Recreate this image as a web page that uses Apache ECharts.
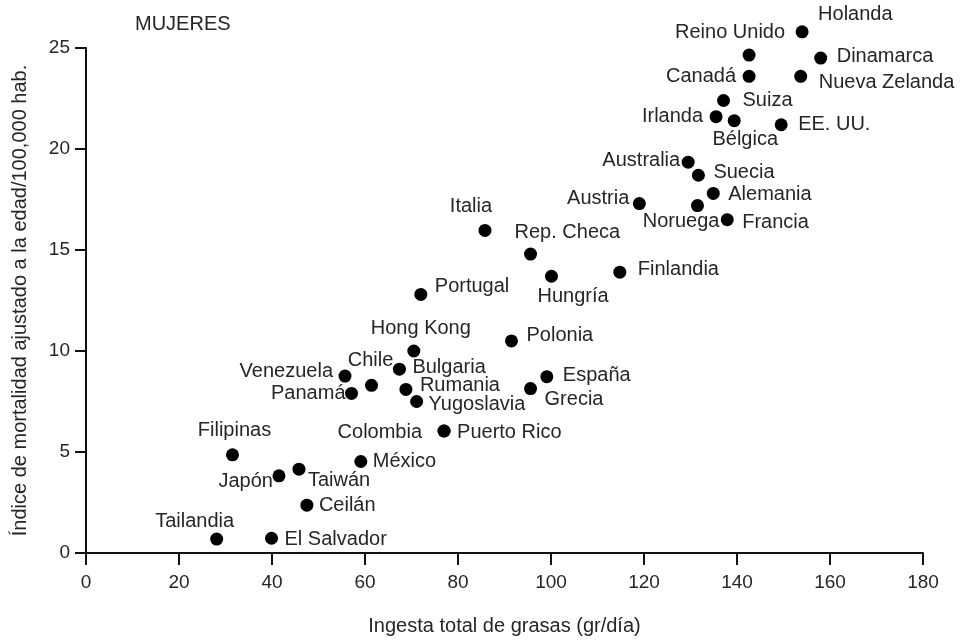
<!DOCTYPE html>
<html>
<head>
<meta charset="utf-8">
<script src="https://cdn.jsdelivr.net/npm/echarts@6/dist/echarts.min.js"></script>
<style>
html,body{margin:0;padding:0;background:#fff;}
#chart{width:980px;height:641px;}
</style>
</head>
<body>
<div id="chart"></div>
<script>
// ---- data ----
const countries = ['Holanda','Reino Unido','Dinamarca','Canadá','Nueva Zelanda','Suiza','Irlanda','Bélgica','EE. UU.','Australia','Suecia','Alemania','Austria','Noruega','Francia','Finlandia','Italia','Rep. Checa','Hungría','Portugal','Polonia','Hong Kong','Chile','Bulgaria','Venezuela','Panamá','Rumania','Yugoslavia','Colombia','Puerto Rico','México','España','Grecia','Filipinas','Japón','Taiwán','Ceilán','Tailandia','El Salvador'];
const fatIntake = [154.0,142.6,158.0,142.6,153.7,137.1,135.5,139.4,149.5,129.5,131.7,134.9,119.0,131.5,137.9,114.8,85.8,95.6,100.1,72.0,91.5,70.5,61.4,67.4,55.7,57.1,68.8,71.1,77.0,77.0,59.1,99.1,95.6,31.5,41.5,45.8,47.5,28.1,39.9];
const mortality = [25.8,24.65,24.5,23.6,23.6,22.4,21.6,21.4,21.2,19.35,18.7,17.8,17.3,17.2,16.5,13.9,15.97,14.8,13.7,12.8,10.5,10.0,8.3,9.1,8.76,7.9,8.1,7.5,6.04,6.04,4.53,8.73,8.14,4.86,3.82,4.15,2.37,0.69,0.73];
const xTicks = [0,20,40,60,80,100,120,140,160,180];
const yTicks = [0,5,10,15,20,25];

// ---- label placement (style only): [align, dx, dy] relative to dot centre ----
const labelPlace = {
  'Holanda':['left',16,-17],'Reino Unido':['right',36,-23],'Dinamarca':['left',16,-2],
  'Canadá':['right',-13,0],'Nueva Zelanda':['left',18,6],'Suiza':['left',19,0],
  'Irlanda':['right',-13,0],'Bélgica':['center',11,19],'EE. UU.':['left',17,0],
  'Australia':['right',-8,-2],'Suecia':['left',15,-3],'Alemania':['left',15,1],
  'Austria':['right',-10,-5],'Noruega':['right',22,16],'Francia':['left',15,3],
  'Finlandia':['left',18,-3],'Italia':['center',-14,-24],'Rep. Checa':['left',-16,-22],
  'Hungría':['left',-14,20],'Portugal':['left',14,-8],'Polonia':['left',15,-5],
  'Hong Kong':['center',7,-23],'Chile':['center',-1,-25],'Bulgaria':['left',13,-2],
  'Venezuela':['right',-12,-5],'Panamá':['right',-6,0],'Rumania':['left',14,-4],
  'Yugoslavia':['left',12,3],'Colombia':['right',-22,1],'Puerto Rico':['left',13,1],
  'México':['left',12,0],'España':['left',16,-1],'Grecia':['left',14,11],
  'Filipinas':['center',2,-24],'Japón':['right',-6,6],'Taiwán':['left',9,11],
  'Ceilán':['left',12,0],'Tailandia':['center',-22,-18],'El Salvador':['left',13,1]
};

const SYM = 13;
const FONT = 'Liberation Sans, Arial, sans-serif';
const TXT = '#262626';
const seriesData = countries.map((n, i) => {
  const p = labelPlace[n];
  return {
    name: n,
    value: [fatIntake[i], mortality[i]],
    label: {
      show: true,
      formatter: n,
      position: [SYM/2 + p[1], SYM/2 + p[2]],
      align: p[0],
      verticalAlign: 'middle',
      color: TXT,
      fontSize: 20,
      fontFamily: FONT
    }
  };
});

const chart = echarts.init(document.getElementById('chart'), null, {renderer:'canvas'});
chart.setOption({
  animation: false,
  backgroundColor: '#fff',
  title: {
    text: 'MUJERES', left: 135, top: 14, padding: 0,
    textStyle: {fontSize: 20, fontWeight: 'normal', color: TXT, fontFamily: FONT}
  },
  grid: {left: 86, right: 57, top: 48, bottom: 87},
  xAxis: {
    type: 'value', min: xTicks[0], max: xTicks[xTicks.length-1], interval: 20,
    name: 'Ingesta total de grasas (gr/día)', nameLocation: 'middle', nameGap: 63,
    nameTextStyle: {fontSize: 20, color: TXT, fontFamily: FONT},
    axisLine: {show: true, lineStyle: {color: '#111', width: 2}},
    axisTick: {show: true, length: 12, lineStyle: {color: '#111', width: 2}},
    axisLabel: {fontSize: 19, color: TXT, margin: 20, fontFamily: FONT},
    splitLine: {show: false}
  },
  yAxis: {
    type: 'value', min: yTicks[0], max: yTicks[yTicks.length-1], interval: 5,
    name: 'Índice de mortalidad ajustado a la edad/100,000 hab.', nameLocation: 'middle', nameGap: 56,
    nameRotate: 90,
    nameTextStyle: {fontSize: 20, color: TXT, fontFamily: FONT},
    axisLine: {show: true, lineStyle: {color: '#111', width: 2}},
    axisTick: {show: true, length: 11, lineStyle: {color: '#111', width: 2}},
    axisLabel: {fontSize: 19, color: TXT, margin: 16, fontFamily: FONT},
    splitLine: {show: false}
  },
  series: [{
    type: 'scatter',
    clip: false,
    symbol: 'circle',
    symbolSize: SYM,
    itemStyle: {color: '#000', opacity: 1},
    emphasis: {disabled: true},
    data: seriesData
  }]
});
</script>
</body>
</html>
